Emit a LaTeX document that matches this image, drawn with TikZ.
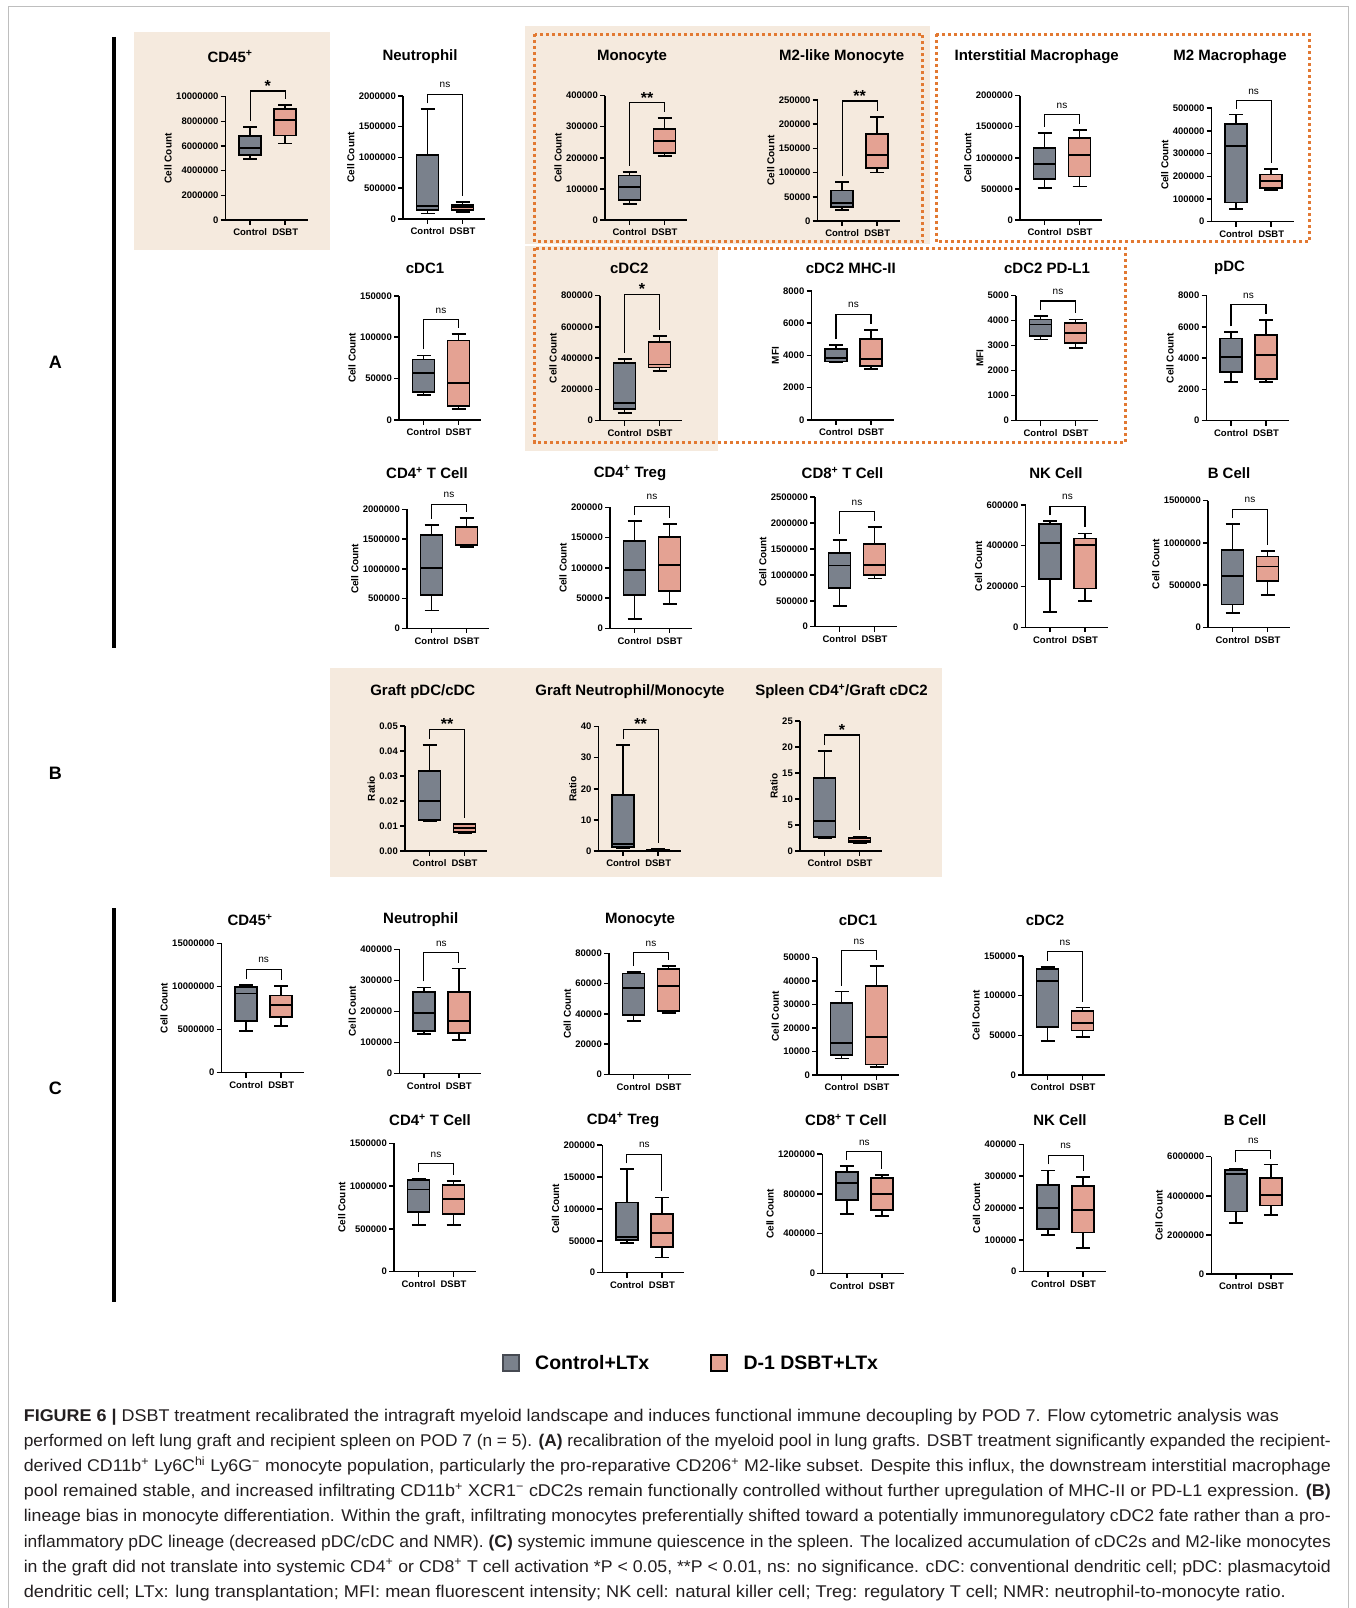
\documentclass[tikz,border=0pt]{standalone}
\usepackage{fontspec}
\usepackage{graphicx}
\setmainfont{Liberation Sans}
\newfontfamily\capfont[FakeStretch=0.86]{Liberation Sans}
\definecolor{ctrl}{RGB}{122,129,140}
\definecolor{ctrlb}{RGB}{70,74,82}
\definecolor{dsbt}{RGB}{228,162,147}
\definecolor{beige}{RGB}{245,234,222}
\definecolor{dotor}{RGB}{226,121,50}
\definecolor{frm}{RGB}{190,190,190}
\definecolor{captxt}{RGB}{35,31,32}
\newcount\pidx
\def\nsstr{ns}
\def\parsefive#1,#2,#3,#4,#5\relax{\def\vA{#1}\def\vB{#2}\def\vC{#3}\def\vD{#4}\def\vE{#5}}
\newcommand\drawbox[5]{%
  \parsefive#4\relax
  \pgfmathsetmacro\yA{#2-\vA*#3}%
  \pgfmathsetmacro\yB{#2-\vB*#3}%
  \pgfmathsetmacro\yC{#2-\vC*#3}%
  \pgfmathsetmacro\yD{#2-\vD*#3}%
  \pgfmathsetmacro\yE{#2-\vE*#3}%
  \draw[whisk] (#1,\yA) -- (#1,\yB) (#1,\yD) -- (#1,\yE) (#1-7,\yA) -- (#1+7,\yA) (#1-7,\yE) -- (#1+7,\yE);
  \draw[#5] (#1-11,\yB) rectangle (#1+11,\yD);
  \draw[whisk] (#1-11,\yC) -- (#1+11,\yC);
}
% #1 x0, #2 y0, #3 px per tick, #4 tick labels, #5 y label, #6 sig, #7 bracket top (ticks), #8 control, #9 dsbt
\newcommand\bplot[9]{%
  \global\advance\pidx by 1
  \edef\pn{p\the\pidx}%
  \foreach \lab [count=\k from 0] in {#4} {
    \pgfmathsetmacro\ty{#2-\k*#3}
    \draw[axln] (#1-5,\ty) -- (#1,\ty);
    \node[ticklab] (\pn t\k) at (#1-7,\ty) {\lab};
    \xdef\ntop{\k}\xdef\ytop{\ty}
  }
  \draw[axln] (#1,\ytop) -- (#1,#2) -- (#1+82,#2);
  \draw[axln] (#1+24.5,#2) -- (#1+24.5,#2+5) (#1+59.5,#2) -- (#1+59.5,#2+5);
  \node[xlab] (\pn c) at (#1+24.5,#2+12.5) {Control};
  \node[xlab] (\pn d) at (#1+59.5,#2+12.5) {DSBT};
  \pgfmathsetmacro\ymid{(#2+\ytop)/2}
  \path (\pn t\ntop.west) ++(-4,0) coordinate (\pn tl);
  \coordinate (\pn m) at (0,\ymid);
  \node[ylab] (\pn y) at (\pn tl |- \pn m) {#5};
  \parsefive#8\relax \pgfmathsetmacro\hc{#2-\vE*#3-6}
  \parsefive#9\relax \pgfmathsetmacro\hd{#2-\vE*#3-6}
  \pgfmathsetmacro\bt{#2-#7*#3}
  \draw[brk] (#1+24.5,\hc) -- (#1+24.5,\bt) -- (#1+59.5,\bt) -- (#1+59.5,\hd);
  \def\tmp{#6}%
  \ifx\tmp\nsstr
    \node[nslab] (\pn s) at (#1+42,\bt-6.4) {ns};
  \else
    \node[starlab] (\pn s) at (#1+42,\bt+0.5) {#6};
  \fi
  \drawbox{#1+24.5}{#2}{#3}{#8}{boxC}
  \drawbox{#1+59.5}{#2}{#3}{#9}{boxD}
}
\tikzset{
  axln/.style={line width=1.5pt},
  whisk/.style={line width=1.8pt},
  boxC/.style={draw=black, line width=1.8pt, fill=ctrl},
  boxD/.style={draw=black, line width=1.8pt, fill=dsbt},
  brk/.style={line width=1.1pt},
  ticklab/.style={anchor=east, inner sep=0pt, font=\bfseries\fontsize{9.5}{10}\selectfont},
  xlab/.style={inner sep=0pt, font=\bfseries\fontsize{9.5}{10}\selectfont},
  ylab/.style={rotate=90, anchor=south, inner sep=0pt, font=\bfseries\fontsize{10}{11}\selectfont},
  ttl/.style={inner sep=0pt, font=\bfseries\fontsize{15}{16}\selectfont},
  nslab/.style={anchor=base, inner sep=0pt, font=\fontsize{10}{11}\selectfont},
  starlab/.style={anchor=base, inner sep=0pt, font=\bfseries\fontsize{16}{17}\selectfont},
  dotbox/.style={draw=dotor, line width=3pt, dash pattern=on 3pt off 3pt},
  panlab/.style={inner sep=0pt, font=\bfseries\fontsize{18}{20}\selectfont},
  legsq/.style={minimum size=16pt, inner sep=0pt, line width=2pt},
  legt/.style={anchor=west, inner sep=0pt, font=\bfseries\fontsize{19.5}{22}\selectfont},
  capl/.style={anchor=base west, inner sep=0pt, text=captxt, font=\capfont\fontsize{17}{20}\selectfont},
}
\begin{document}
\begin{tikzpicture}[x=1pt,y=-1pt]
\useasboundingbox (0,0) rectangle (1356,1608);
\fill[white] (0,0) rectangle (1356,1608);
\draw[frm, line width=1pt] (8,1620) -- (8,7) -- (1348,7) -- (1348,1620);
% backgrounds
\fill[beige] (134,32) rectangle (330,250);
\fill[beige] (525,26.5) rectangle (930,244);
\fill[beige] (525,246) rectangle (718,451);
\fill[beige] (329.5,668) rectangle (941.5,877);
\draw[dotbox] (534.5,34.5) rectangle (922.5,241.5);
\draw[dotbox] (936,34.5) rectangle (1309.5,241.5);
\draw[dotbox] (534.5,248) rectangle (1125,442.5);
% bars and panel letters
\draw[line width=4pt] (113.9,37) -- (113.9,648);
\draw[line width=4pt] (113.9,908) -- (113.9,1302);
\node[panlab] (LA) at (55.4,362) {A};
\node[panlab] (LB) at (55.4,773.5) {B};
\node[panlab] (LC) at (55.4,1088.5) {C};
% ---------- Row A1
\node[ttl] (tA1) at (230,56.5) {CD45\textsuperscript{+}};
\bplot{225.7}{220}{24.66}{0,2000000,4000000,6000000,8000000,10000000}{Cell Count}{*}{5.23}{2.48,2.65,2.93,3.4,3.78}{3.1,3.43,4.05,4.5,4.65}
\node[ttl] (tA2) at (420,56.5) {Neutrophil};
\bplot{403}{219}{30.8}{0,500000,1000000,1500000,2000000}{Cell Count}{ns}{4.05}{0.18,0.28,0.42,2.08,3.56}{0.24,0.28,0.38,0.46,0.54}
\node[ttl] (tA3) at (632,56.5) {Monocyte};
\bplot{605}{220}{31.1}{0,100000,200000,300000,400000}{Cell Count}{**}{3.77}{0.52,0.65,1.05,1.43,1.55}{2.05,2.15,2.53,2.92,3.28}
\node[ttl] (tA4) at (841.7,56.5) {M2-like Monocyte};
\bplot{817.7}{221}{24.2}{0,50000,100000,150000,200000,250000}{Cell Count}{**}{4.96}{0.44,0.58,0.74,1.26,1.6}{2.0,2.2,2.74,3.6,4.3}
\node[ttl] (tA5) at (1036.7,56.5) {Interstitial Macrophage};
\bplot{1020}{220}{31.1}{0,500000,1000000,1500000,2000000}{Cell Count}{ns}{3.38}{1.04,1.32,1.8,2.32,2.8}{1.08,1.4,2.08,2.64,2.9}
\node[ttl] (tA6) at (1230,56.5) {M2 Macrophage};
\bplot{1211.7}{221.7}{22.7}{0,100000,200000,300000,400000,500000}{Cell Count}{ns}{5.33}{0.55,0.85,3.35,4.32,4.72}{1.38,1.48,1.8,2.08,2.32}
% ---------- Row A2
\node[ttl] (tA7) at (425,268) {cDC1};
\bplot{399}{420}{41.4}{0,50000,100000,150000}{Cell Count}{ns}{2.42}{0.6,0.67,1.14,1.46,1.56}{0.26,0.34,0.9,1.92,2.08}
\node[ttl] (tA8) at (629.3,268) {cDC2};
\bplot{600}{420.7}{31.25}{0,200000,400000,600000,800000}{Cell Count}{*}{4.05}{0.25,0.375,0.575,1.85,1.975}{1.6,1.7,1.8,2.525,2.7}
\node[ttl] (tA9) at (850.8,268) {cDC2 MHC-II};
\bplot{811.5}{420}{32.3}{0,2000,4000,6000,8000}{MFI}{ns}{3.27}{1.78,1.81,1.93,2.21,2.31}{1.58,1.66,1.89,2.5,2.79}
\node[ttl] (tA10) at (1047,268) {cDC2 PD-L1};
\bplot{1016}{420.7}{25}{0,1000,2000,3000,4000,5000}{MFI}{ns}{4.79}{3.25,3.4,3.85,4.05,4.18}{2.9,3.1,3.52,3.92,4.05}
\node[ttl] (tA11) at (1229.6,268) {pDC};
\bplot{1206.5}{420.7}{31.25}{0,2000,4000,6000,8000}{Cell Count}{ns}{3.72}{1.24,1.55,2.03,2.63,2.83}{1.25,1.34,2.09,2.74,3.21}
% ---------- Row A3
\node[ttl] (tA12) at (427,473) {CD4\textsuperscript{+} T Cell};
\bplot{407}{628.3}{29.75}{0,500000,1000000,1500000,2000000}{Cell Count}{ns}{4.17}{0.6,1.12,2.02,3.14,3.48}{2.72,2.78,2.8,3.4,3.7}
\node[ttl] (tA13) at (630,473) {CD4\textsuperscript{+} Treg};
\bplot{610}{628.3}{30.25}{0,50000,100000,150000,200000}{Cell Count}{ns}{4.04}{0.3,1.1,1.92,2.88,3.54}{0.8,1.24,2.1,3.02,3.44}
\node[ttl] (tA14) at (842.5,473) {CD8\textsuperscript{+} T Cell};
\bplot{815}{626.7}{25.9}{0,500000,1000000,1500000,2000000,2500000}{Cell Count}{ns}{4.44}{0.8,1.5,2.36,2.84,3.34}{1.86,2.0,2.38,3.2,3.84}
\node[ttl] (tA15) at (1056,473) {NK Cell};
\bplot{1025.5}{627.3}{40.8}{0,200000,400000,600000}{Cell Count}{ns}{2.97}{0.375,1.175,2.075,2.525,2.6}{0.65,0.95,2.025,2.175,2.3}
\node[ttl] (tA16) at (1229,473) {B Cell};
\bplot{1208}{627.3}{42.2}{0,500000,1000000,1500000}{Cell Count}{ns}{2.8}{0.34,0.54,1.22,1.84,2.44}{0.76,1.1,1.44,1.68,1.8}
% ---------- Row B
\node[ttl] (tB1) at (422.8,691.7) {Graft pDC/cDC};
\bplot{405}{851}{25}{0.00,0.01,0.02,0.03,0.04,0.05}{Ratio}{**}{4.87}{1.2,1.25,2.0,3.2,4.25}{0.72,0.77,0.92,1.08,1.1}
\node[ttl] (tB2) at (630,691.7) {Graft Neutrophil/Monocyte};
\bplot{598.7}{851}{31.1}{0,10,20,30,40}{Ratio}{**}{3.91}{0.1,0.13,0.23,1.8,3.4}{0.02,0.03,0.04,0.05,0.07}
\node[ttl] (tB3) at (841.5,691.7) {Spleen CD4\textsuperscript{+}/Graft cDC2};
\bplot{800}{851}{26}{0,5,10,15,20,25}{Ratio}{*}{4.46}{0.48,0.54,1.16,2.82,3.84}{0.3,0.34,0.4,0.5,0.56}
% ---------- Row C1
\node[ttl] (tC1) at (250,920) {CD45\textsuperscript{+}};
\bplot{221.7}{1072.7}{43.1}{0,5000000,10000000,15000000}{Cell Count}{ns}{2.4}{0.975,1.2,1.84,1.98,2.03}{1.08,1.3,1.57,1.79,2.02}
\node[ttl] (tC2) at (420.7,920) {Neutrophil};
\bplot{399.3}{1073.3}{31}{0,100000,200000,300000,400000}{Cell Count}{ns}{3.9}{1.26,1.36,1.94,2.63,2.77}{1.07,1.29,1.7,2.63,3.38}
\node[ttl] (tC3) at (640,920) {Monocyte};
\bplot{609}{1074.3}{30.25}{0,20000,40000,60000,80000}{Cell Count}{ns}{4.02}{1.75,1.95,2.85,3.33,3.38}{2.03,2.1,2.93,3.48,3.58}
\node[ttl] (tC4) at (858,920) {cDC1};
\bplot{817}{1075}{23.5}{0,10000,20000,30000,40000,50000}{Cell Count}{ns}{5.28}{0.7,0.85,1.35,3.05,3.55}{0.35,0.45,1.62,3.8,4.65}
\node[ttl] (tC5) at (1045,920) {cDC2};
\bplot{1023}{1075}{39.7}{0,50000,100000,150000}{Cell Count}{ns}{3.1}{0.86,1.2,2.36,2.68,2.72}{0.96,1.12,1.32,1.62,1.7}
% ---------- Row C2
\node[ttl] (tC6) at (430,1120) {CD4\textsuperscript{+} T Cell};
\bplot{394}{1271.7}{42.8}{0,500000,1000000,1500000}{Cell Count}{ns}{2.53}{1.1,1.4,1.92,2.14,2.18}{1.1,1.34,1.7,2.02,2.12}
\node[ttl] (tC7) at (623,1120) {CD4\textsuperscript{+} Treg};
\bplot{602.4}{1272.7}{31.9}{0,50000,100000,150000,200000}{Cell Count}{ns}{3.71}{0.94,1.02,1.12,2.2,3.24}{0.48,0.8,1.24,1.84,2.36}
\node[ttl] (tC8) at (846,1120) {CD8\textsuperscript{+} T Cell};
\bplot{822.3}{1273.3}{39.7}{0,400000,800000,1200000}{Cell Count}{ns}{3.06}{1.5,1.85,2.275,2.55,2.7}{1.45,1.6,2.0,2.4,2.475}
\node[ttl] (tC9) at (1060,1120) {NK Cell};
\bplot{1023.6}{1271.7}{31.85}{0,100000,200000,300000,400000}{Cell Count}{ns}{3.66}{1.15,1.35,2.0,2.72,3.18}{0.75,1.23,1.95,2.68,2.98}
\node[ttl] (tC10) at (1245,1120) {B Cell};
\bplot{1211.4}{1274}{39.1}{0,2000000,4000000,6000000}{Cell Count}{ns}{3.17}{1.3,1.6,2.55,2.65,2.7}{1.5,1.75,2.025,2.45,2.8}
% ---------- Legend
\node[legsq, fill=ctrl, draw=ctrlb] (lg1) at (511,1363) {};
\node[legt] (lt1) at (535,1363) {Control+LTx};
\node[legsq, fill=dsbt, draw=black] (lg2) at (719,1363) {};
\node[legt] (lt2) at (743.3,1363) {D-1 DSBT+LTx};
% ---------- Caption
\node[capl] (cap1) at (23.6,1421) {\resizebox{1255pt}{\height}{\textbf{FIGURE 6 |} DSBT treatment recalibrated the intragraft myeloid landscape and induces functional immune decoupling by POD 7. Flow cytometric analysis was}};
\node[capl] (cap2) at (23.6,1446.2) {\resizebox{1307pt}{\height}{performed on left lung graft and recipient spleen on POD 7 (n = 5). \textbf{(A)} recalibration of the myeloid pool in lung grafts. DSBT treatment significantly expanded the recipient-}};
\node[capl] (cap3) at (23.6,1471.4) {\resizebox{1307pt}{\height}{derived CD11b\textsuperscript{+} Ly6C\textsuperscript{hi} Ly6G\textsuperscript{−} monocyte population, particularly the pro-reparative CD206\textsuperscript{+} M2-like subset. Despite this influx, the downstream interstitial macrophage}};
\node[capl] (cap4) at (23.6,1496.6) {\resizebox{1307pt}{\height}{pool remained stable, and increased infiltrating CD11b\textsuperscript{+} XCR1\textsuperscript{−} cDC2s remain functionally controlled without further upregulation of MHC-II or PD-L1 expression. \textbf{(B)}}};
\node[capl] (cap5) at (23.6,1521.8) {\resizebox{1307pt}{\height}{lineage bias in monocyte differentiation. Within the graft, infiltrating monocytes preferentially shifted toward a potentially immunoregulatory cDC2 fate rather than a pro-}};
\node[capl] (cap6) at (23.6,1547) {\resizebox{1307pt}{\height}{inflammatory pDC lineage (decreased pDC/cDC and NMR). \textbf{(C)} systemic immune quiescence in the spleen. The localized accumulation of cDC2s and M2-like monocytes}};
\node[capl] (cap7) at (23.6,1572.2) {\resizebox{1307pt}{\height}{in the graft did not translate into systemic CD4\textsuperscript{+} or CD8\textsuperscript{+} T cell activation *P < 0.05, **P < 0.01, ns: no significance. cDC: conventional dendritic cell; pDC: plasmacytoid}};
\node[capl] (cap8) at (23.6,1597.4) {\resizebox{1262pt}{\height}{dendritic cell; LTx: lung transplantation; MFI: mean fluorescent intensity; NK cell: natural killer cell; Treg: regulatory T cell; NMR: neutrophil-to-monocyte ratio.}};
\end{tikzpicture}
\end{document}
